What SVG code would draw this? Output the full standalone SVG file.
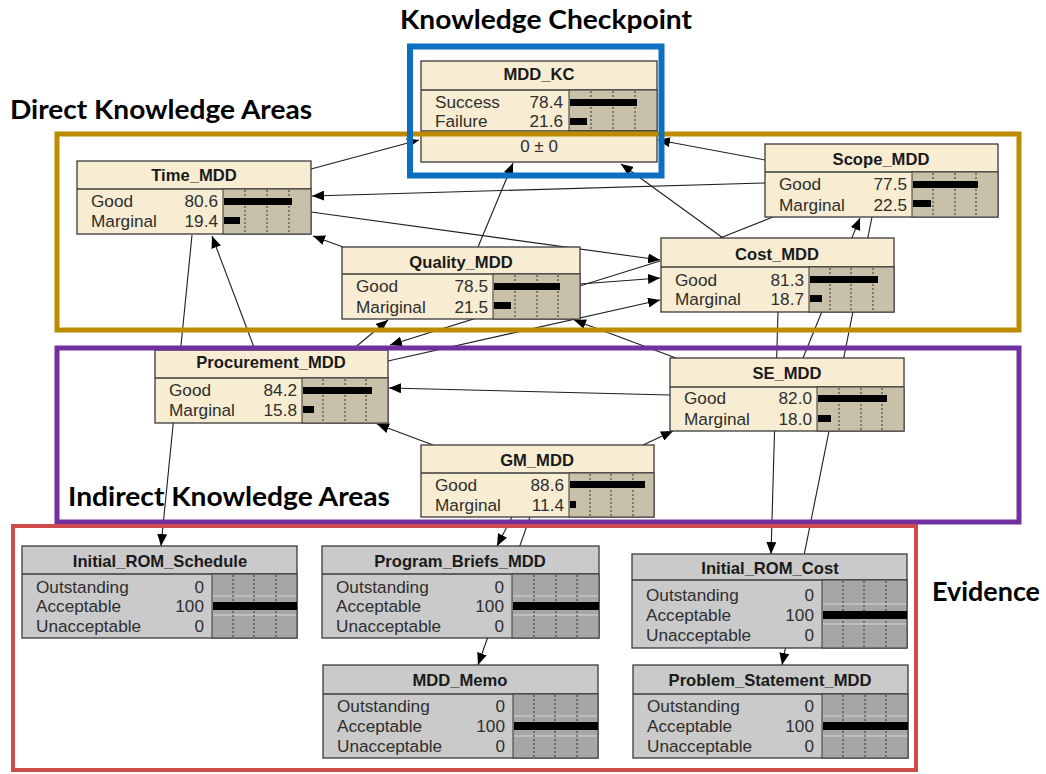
<svg xmlns="http://www.w3.org/2000/svg" width="1046" height="774" viewBox="0 0 1046 774">
<style>
.bg{fill:#ffffff}
.nb{fill:#F8EDD2;stroke:#3a3a3a;stroke-width:1.3}
.eb{fill:#CACACA;stroke:#3a3a3a;stroke-width:1.3}
.sep{stroke:#3a3a3a;stroke-width:1.3}
.bar{fill:#C9C0A9;stroke:#3a3a3a;stroke-width:1}
.ebar{fill:#A6A6A6;stroke:#3a3a3a;stroke-width:1}
.dot{stroke:#333;stroke-width:1;stroke-dasharray:2,2}
.rowl{stroke:#D6D6D6;stroke-width:1}
.fill{fill:#000}
.t{font-family:"Liberation Sans",Arial,sans-serif;font-size:17.2px;fill:#2e2e2e}
.v{font-family:"Liberation Sans",Arial,sans-serif;font-size:17.2px;fill:#2e2e2e;text-anchor:end}
.h{font-family:"Liberation Sans",Arial,sans-serif;font-size:16.6px;font-weight:bold;fill:#1a1a1a;text-anchor:middle}
.c{font-family:"Liberation Sans",Arial,sans-serif;font-size:17px;fill:#2e2e2e;text-anchor:middle}
.lbl{font-family:Lato,"Open Sans",sans-serif;font-size:26px;font-weight:bold;fill:#000}
.ln{fill:none;stroke:#1e1e1e;stroke-width:1.1}
.fr{fill:none}
</style>
<defs>
<marker id="ah" viewBox="0 0 12 10" markerWidth="12" markerHeight="10" refX="12" refY="5" orient="auto" markerUnits="userSpaceOnUse">
<path d="M0,0 L12,5 L0,10 z" fill="#000"/>
</marker>
</defs>
<rect class="bg" x="0" y="0" width="1046" height="774"/>

<g id="connectors">
<path class="ln" d="M311,169 L419,140" marker-end="url(#ah)"/>
<path class="ln" d="M765,160 L658,140" marker-end="url(#ah)"/>
<path class="ln" d="M478,247 L513,163" marker-end="url(#ah)"/>
<path class="ln" d="M723,238 L621,164" marker-end="url(#ah)"/>
<path class="ln" d="M765,183 L312,196" marker-end="url(#ah)"/>
<path class="ln" d="M311,212 L660,260" marker-end="url(#ah)"/>
<path class="ln" d="M580,284 L660,278" marker-end="url(#ah)"/>
<path class="ln" d="M660,261 L390,345" marker-end="url(#ah)"/>
<path class="ln" d="M388,361 L660,300" marker-end="url(#ah)"/>
<path class="ln" d="M255,350 L212,236" marker-end="url(#ah)"/>
<path class="ln" d="M343,247 L313,236" marker-end="url(#ah)"/>
<path class="ln" d="M192,235 L161,546" marker-end="url(#ah)"/>
<path class="ln" d="M670,395 L389,388" marker-end="url(#ah)"/>
<path class="ln" d="M433,445 L377,424" marker-end="url(#ah)"/>
<path class="ln" d="M643,445 L673,431" marker-end="url(#ah)"/>
<path class="ln" d="M676,358 L574,320" marker-end="url(#ah)"/>
<path class="ln" d="M352,350 L388,320" marker-end="url(#ah)"/>
<path class="ln" d="M803,358 L860,218" marker-end="url(#ah)"/>
<path class="ln" d="M872,217 L782,665" marker-end="url(#ah)"/>
<path class="ln" d="M778,312 L771,554" marker-end="url(#ah)"/>
<path class="ln" d="M512,517 L497,546" marker-end="url(#ah)"/>
<path class="ln" d="M530,517 L478,665" marker-end="url(#ah)"/>
<path class="ln" d="M773,217 L720,238"/>
</g>

<g id="node-MDD_KC">
<rect class="nb" x="421" y="61" width="236" height="101"/>
<line class="sep" x1="421" y1="90" x2="657" y2="90"/>
<rect class="bar" x="569" y="90" width="88" height="41"/>
<line class="dot" x1="591" y1="91" x2="591" y2="131"/><line class="dot" x1="613" y1="91" x2="613" y2="131"/><line class="dot" x1="635" y1="91" x2="635" y2="131"/>
<rect class="fill" x="570" y="99" width="67" height="7"/>
<rect class="fill" x="570" y="118" width="17" height="7"/>
<line class="sep" x1="421" y1="131" x2="657" y2="131"/>
<text class="h" x="539" y="80">MDD_KC</text>
<text class="t" x="435" y="108">Success</text><text class="v" x="563" y="108">78.4</text>
<text class="t" x="435" y="127">Failure</text><text class="v" x="563" y="127">21.6</text>
<text class="c" x="539" y="152">0 ± 0</text>
</g>

<g id="node-Time_MDD">
<rect class="nb" x="77" y="161" width="234" height="73"/>
<line class="sep" x1="77" y1="189" x2="311" y2="189"/>
<rect class="bar" x="223" y="189" width="88" height="45"/>
<line class="dot" x1="245" y1="190" x2="245" y2="234"/><line class="dot" x1="267" y1="190" x2="267" y2="234"/><line class="dot" x1="289" y1="190" x2="289" y2="234"/>
<rect class="fill" x="224" y="198" width="68" height="7"/>
<rect class="fill" x="224" y="217" width="16" height="7"/>
<text class="h" x="194" y="181">Time_MDD</text>
<text class="t" x="91" y="207">Good</text><text class="v" x="218" y="207">80.6</text>
<text class="t" x="91" y="227">Marginal</text><text class="v" x="218" y="227">19.4</text>
</g>

<g id="node-Scope_MDD">
<rect class="nb" x="765" y="144" width="233" height="73"/>
<line class="sep" x1="765" y1="172" x2="998" y2="172"/>
<rect class="bar" x="912" y="172" width="86" height="45"/>
<line class="dot" x1="933" y1="173" x2="933" y2="217"/><line class="dot" x1="955" y1="173" x2="955" y2="217"/><line class="dot" x1="976" y1="173" x2="976" y2="217"/>
<rect class="fill" x="913" y="181" width="65" height="7"/>
<rect class="fill" x="913" y="200" width="18" height="7"/>
<text class="h" x="881" y="165">Scope_MDD</text>
<text class="t" x="779" y="190">Good</text><text class="v" x="907" y="190">77.5</text>
<text class="t" x="779" y="211">Marginal</text><text class="v" x="907" y="211">22.5</text>
</g>

<g id="node-Cost_MDD">
<rect class="nb" x="661" y="238" width="233" height="74"/>
<line class="sep" x1="661" y1="267" x2="894" y2="267"/>
<rect class="bar" x="809" y="267" width="85" height="45"/>
<line class="dot" x1="830" y1="268" x2="830" y2="312"/><line class="dot" x1="851" y1="268" x2="851" y2="312"/><line class="dot" x1="873" y1="268" x2="873" y2="312"/>
<rect class="fill" x="810" y="276" width="68" height="7"/>
<rect class="fill" x="810" y="295" width="12" height="7"/>
<text class="h" x="777" y="260">Cost_MDD</text>
<text class="t" x="675" y="286">Good</text><text class="v" x="804" y="286">81.3</text>
<text class="t" x="675" y="305">Marginal</text><text class="v" x="804" y="305">18.7</text>
</g>

<g id="node-Quality_MDD">
<rect class="nb" x="342" y="247" width="238" height="72"/>
<line class="sep" x1="342" y1="274" x2="580" y2="274"/>
<rect class="bar" x="493" y="274" width="87" height="45"/>
<line class="dot" x1="515" y1="275" x2="515" y2="319"/><line class="dot" x1="537" y1="275" x2="537" y2="319"/><line class="dot" x1="558" y1="275" x2="558" y2="319"/>
<rect class="fill" x="494" y="283" width="66" height="7"/>
<rect class="fill" x="494" y="302" width="17" height="7"/>
<text class="h" x="461" y="268">Quality_MDD</text>
<text class="t" x="356" y="292">Good</text><text class="v" x="488" y="292">78.5</text>
<text class="t" x="356" y="313">Mariginal</text><text class="v" x="488" y="313">21.5</text>
</g>

<g id="node-Procurement_MDD">
<rect class="nb" x="155" y="350" width="233" height="73"/>
<line class="sep" x1="155" y1="378" x2="388" y2="378"/>
<rect class="bar" x="302" y="378" width="86" height="45"/>
<line class="dot" x1="323" y1="379" x2="323" y2="423"/><line class="dot" x1="345" y1="379" x2="345" y2="423"/><line class="dot" x1="366" y1="379" x2="366" y2="423"/>
<rect class="fill" x="303" y="387" width="69" height="7"/>
<rect class="fill" x="303" y="406" width="11" height="7"/>
<text class="h" x="271" y="368">Procurement_MDD</text>
<text class="t" x="169" y="396">Good</text><text class="v" x="297" y="396">84.2</text>
<text class="t" x="169" y="416">Marginal</text><text class="v" x="297" y="416">15.8</text>
</g>

<g id="node-SE_MDD">
<rect class="nb" x="670" y="358" width="234" height="73"/>
<line class="sep" x1="670" y1="387" x2="904" y2="387"/>
<rect class="bar" x="817" y="387" width="87" height="44"/>
<line class="dot" x1="839" y1="388" x2="839" y2="431"/><line class="dot" x1="861" y1="388" x2="861" y2="431"/><line class="dot" x1="882" y1="388" x2="882" y2="431"/>
<rect class="fill" x="818" y="395" width="69" height="7"/>
<rect class="fill" x="818" y="415" width="13" height="7"/>
<text class="h" x="787" y="379">SE_MDD</text>
<text class="t" x="684" y="404">Good</text><text class="v" x="812" y="404">82.0</text>
<text class="t" x="684" y="425">Marginal</text><text class="v" x="812" y="425">18.0</text>
</g>

<g id="node-GM_MDD">
<rect class="nb" x="421" y="445" width="233" height="72"/>
<line class="sep" x1="421" y1="473" x2="654" y2="473"/>
<rect class="bar" x="569" y="473" width="85" height="44"/>
<line class="dot" x1="590" y1="474" x2="590" y2="517"/><line class="dot" x1="611" y1="474" x2="611" y2="517"/><line class="dot" x1="633" y1="474" x2="633" y2="517"/>
<rect class="fill" x="570" y="481" width="75" height="7"/>
<rect class="fill" x="570" y="501" width="6" height="7"/>
<text class="h" x="537" y="466">GM_MDD</text>
<text class="t" x="435" y="491">Good</text><text class="v" x="564" y="491">88.6</text>
<text class="t" x="435" y="511">Marginal</text><text class="v" x="564" y="511">11.4</text>
</g>

<g id="node-Initial_ROM_Schedule">
<rect class="eb" x="22" y="546" width="275" height="92"/>
<line class="sep" x1="22" y1="574" x2="297" y2="574"/>
<rect class="ebar" x="212" y="574" width="85" height="64"/>
<line class="rowl" x1="213" y1="596" x2="296" y2="596"/><line class="rowl" x1="213" y1="615" x2="296" y2="615"/>
<line class="dot" x1="233" y1="575" x2="233" y2="638"/><line class="dot" x1="254" y1="575" x2="254" y2="638"/><line class="dot" x1="276" y1="575" x2="276" y2="638"/>
<rect class="fill" x="213" y="602" width="84" height="8"/>
<text class="h" x="160" y="567">Initial_ROM_Schedule</text>
<text class="t" x="36" y="593">Outstanding</text><text class="v" x="204" y="593">0</text>
<text class="t" x="36" y="612">Acceptable</text><text class="v" x="204" y="612">100</text>
<text class="t" x="36" y="632">Unacceptable</text><text class="v" x="204" y="632">0</text>
</g>

<g id="node-Program_Briefs_MDD">
<rect class="eb" x="322" y="546" width="277" height="92"/>
<line class="sep" x1="322" y1="574" x2="599" y2="574"/>
<rect class="ebar" x="512" y="574" width="87" height="64"/>
<line class="rowl" x1="513" y1="596" x2="598" y2="596"/><line class="rowl" x1="513" y1="615" x2="598" y2="615"/>
<line class="dot" x1="534" y1="575" x2="534" y2="638"/><line class="dot" x1="556" y1="575" x2="556" y2="638"/><line class="dot" x1="577" y1="575" x2="577" y2="638"/>
<rect class="fill" x="513" y="602" width="86" height="8"/>
<text class="h" x="460" y="567">Program_Briefs_MDD</text>
<text class="t" x="336" y="593">Outstanding</text><text class="v" x="504" y="593">0</text>
<text class="t" x="336" y="612">Acceptable</text><text class="v" x="504" y="612">100</text>
<text class="t" x="336" y="632">Unacceptable</text><text class="v" x="504" y="632">0</text>
</g>

<g id="node-Initial_ROM_Cost">
<rect class="eb" x="632" y="554" width="275" height="94"/>
<line class="sep" x1="632" y1="580" x2="907" y2="580"/>
<rect class="ebar" x="822" y="580" width="85" height="68"/>
<line class="rowl" x1="823" y1="604" x2="906" y2="604"/><line class="rowl" x1="823" y1="624" x2="906" y2="624"/>
<line class="dot" x1="843" y1="581" x2="843" y2="648"/><line class="dot" x1="864" y1="581" x2="864" y2="648"/><line class="dot" x1="886" y1="581" x2="886" y2="648"/>
<rect class="fill" x="823" y="611" width="84" height="8"/>
<text class="h" x="770" y="574">Initial_ROM_Cost</text>
<text class="t" x="646" y="601">Outstanding</text><text class="v" x="814" y="601">0</text>
<text class="t" x="646" y="621">Acceptable</text><text class="v" x="814" y="621">100</text>
<text class="t" x="646" y="641">Unacceptable</text><text class="v" x="814" y="641">0</text>
</g>

<g id="node-MDD_Memo">
<rect class="eb" x="323" y="665" width="275" height="93"/>
<line class="sep" x1="323" y1="694" x2="598" y2="694"/>
<rect class="ebar" x="513" y="694" width="85" height="64"/>
<line class="rowl" x1="514" y1="716" x2="597" y2="716"/><line class="rowl" x1="514" y1="736" x2="597" y2="736"/>
<line class="dot" x1="534" y1="695" x2="534" y2="758"/><line class="dot" x1="555" y1="695" x2="555" y2="758"/><line class="dot" x1="577" y1="695" x2="577" y2="758"/>
<rect class="fill" x="514" y="722" width="84" height="8"/>
<text class="h" x="460" y="686">MDD_Memo</text>
<text class="t" x="337" y="712">Outstanding</text><text class="v" x="505" y="712">0</text>
<text class="t" x="337" y="732">Acceptable</text><text class="v" x="505" y="732">100</text>
<text class="t" x="337" y="752">Unacceptable</text><text class="v" x="505" y="752">0</text>
</g>

<g id="node-Problem_Statement_MDD">
<rect class="eb" x="633" y="665" width="275" height="93"/>
<line class="sep" x1="633" y1="694" x2="908" y2="694"/>
<rect class="ebar" x="822" y="694" width="86" height="64"/>
<line class="rowl" x1="823" y1="716" x2="907" y2="716"/><line class="rowl" x1="823" y1="736" x2="907" y2="736"/>
<line class="dot" x1="843" y1="695" x2="843" y2="758"/><line class="dot" x1="865" y1="695" x2="865" y2="758"/><line class="dot" x1="886" y1="695" x2="886" y2="758"/>
<rect class="fill" x="823" y="722" width="85" height="8"/>
<text class="h" x="770" y="686">Problem_Statement_MDD</text>
<text class="t" x="647" y="712">Outstanding</text><text class="v" x="814" y="712">0</text>
<text class="t" x="647" y="732">Acceptable</text><text class="v" x="814" y="732">100</text>
<text class="t" x="647" y="752">Unacceptable</text><text class="v" x="814" y="752">0</text>
</g>

<g id="frames">
<rect class="fr" x="57" y="134" width="962" height="196" stroke="#BD8B00" stroke-width="5"/>
<rect class="fr" x="57" y="348" width="962" height="174" stroke="#7030A0" stroke-width="5"/>
<rect class="fr" x="13" y="526" width="903" height="244" stroke="#CF4B4B" stroke-width="4"/>
<rect class="fr" x="410" y="46.5" width="251.5" height="129" stroke="#0A70C2" stroke-width="6"/>
</g>

<g id="labels">
<text class="lbl" x="400" y="29" textLength="292" lengthAdjust="spacingAndGlyphs">Knowledge Checkpoint</text>
<text class="lbl" x="10" y="119" textLength="302" lengthAdjust="spacingAndGlyphs">Direct Knowledge Areas</text>
<text class="lbl" x="68" y="506" textLength="322" lengthAdjust="spacingAndGlyphs">Indirect Knowledge Areas</text>
<text class="lbl" x="932" y="601" textLength="108" lengthAdjust="spacingAndGlyphs">Evidence</text>
</g>
</svg>
